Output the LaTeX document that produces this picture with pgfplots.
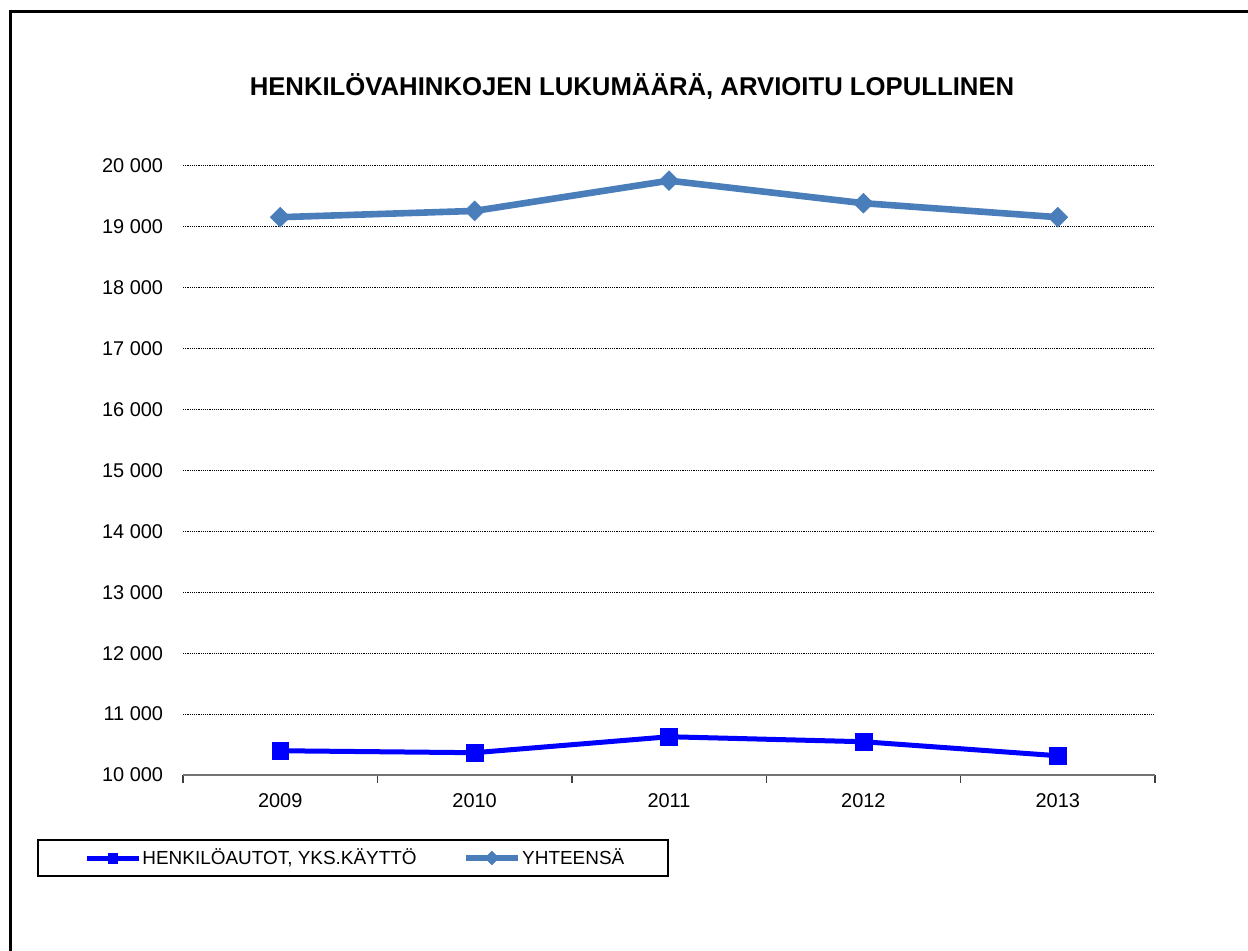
\documentclass[border=0pt]{standalone}
\usepackage{fontspec}
\setmainfont{Liberation Sans}
\usepackage{pgfplots}
\pgfplotsset{compat=1.18}
\definecolor{ybl}{HTML}{4A7EBB}
\definecolor{hbl}{HTML}{0000FF}
\begin{document}
\begin{tikzpicture}[x=1bp,y=1bp]
\useasboundingbox (0,0) rectangle (624,475.5);
\draw[line width=1.5bp] (5,-2) -- (5,469.5) -- (626,469.5);
\node[font=\bfseries\fontsize{12.9}{15}\selectfont] at (316,432) {HENKILÖVAHINKOJEN LUKUMÄÄRÄ, ARVIOITU LOPULLINEN};
\draw[line width=0.6bp] (19,37.5) rectangle (334,55.5);
\begin{axis}[
  at={(91.5bp,88bp)}, anchor=south west,
  scale only axis, width=486bp, height=304.5bp,
  xmin=-0.5, xmax=4.5, ymin=10000, ymax=20000,
  xtick={0,1,2,3,4}, xticklabels={2009,2010,2011,2012,2013},
  minor xtick={-0.5,0.5,1.5,2.5,3.5,4.5},
  major x tick style={draw=none},
  minor x tick style={draw=black!75, line width=0.7bp},
  tick align=outside, minor tick length=4bp,
  ytick={10000,11000,...,20000},
  scaled y ticks=false,
  ytick style={draw=none},
  separate axis lines,
  axis x line*=bottom, axis y line*=left,
  x axis line style={draw=black!55, line width=0.9bp},
  y axis line style={draw=none},
  ymajorgrids, xmajorgrids=false,
  major grid style={draw=black, line width=0.5bp, dash pattern=on 0.6bp off 0.5bp},
  /pgf/number format/.cd, fixed, precision=0, 1000 sep={\ }, assume math mode=true,
  /pgfplots/.cd,
  tick label style={font=\fontsize{10}{11}\selectfont},
  yticklabel style={inner sep=0pt, anchor=east, xshift=-5.5bp},
  xticklabel style={inner sep=0pt, anchor=north, yshift=-5bp},
  clip=false,
  legend columns=2,
  legend style={at={(axis description cs:-0.1018,-0.1363)}, anchor=west, draw=none, fill=none,
    inner sep=0pt, font=\fontsize{9.5}{11}\selectfont, nodes={inner sep=0.5bp},
    /tikz/every even column/.append style={column sep=22.5bp}},
  legend cell align=left,
  legend image code/.code={\draw[mark repeat=2,mark phase=2,mark size=2.4bp] plot coordinates {(0bp,0bp) (13bp,0bp) (26bp,0bp)};},
]
\addplot[color=hbl, line width=2.5bp, mark=square*, mark size=4.2bp, mark options={line width=0.3bp}]
  coordinates {(0,10398) (1,10366) (2,10628) (3,10546) (4,10316)};
\addlegendentry{HENKILÖAUTOT, YKS.KÄYTTÖ}
\addplot[color=ybl, line width=3.3bp, mark=square*, mark size=3.5bp, mark options={rotate=45, line width=0.3bp}]
  coordinates {(0,19159) (1,19262) (2,19759) (3,19389) (4,19159)};
\addlegendentry{YHTEENSÄ}
\end{axis}
\end{tikzpicture}
\end{document}
